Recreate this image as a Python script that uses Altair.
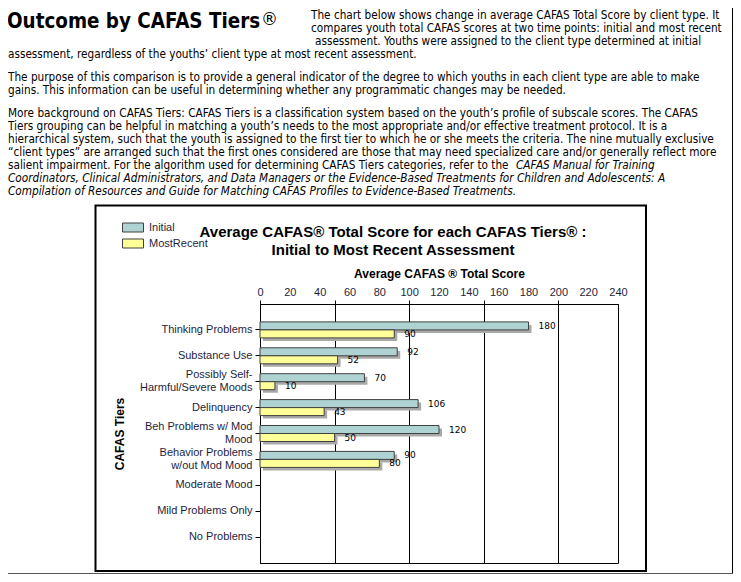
import altair as alt
import pandas as pd

# ---------------- data ----------------
tiers = ["Thinking Problems", "Substance Use", "Possibly Self-Harmful/Severe Moods", "Delinquency",
         "Beh Problems w/ Mod Mood", "Behavior Problems w/out Mod Mood", "Moderate Mood",
         "Mild Problems Only", "No Problems"]
tier_labels = [["Thinking Problems"], ["Substance Use"], ["Possibly Self-", "Harmful/Severe Moods"],
               ["Delinquency"], ["Beh Problems w/ Mod", "Mood"], ["Behavior Problems", "w/out Mod Mood"],
               ["Moderate Mood"], ["Mild Problems Only"], ["No Problems"]]
series = ["Initial", "MostRecent"]
initial = [180, 92, 70, 106, 120, 90, None, None, None]
most_recent = [90, 52, 10, 43, 50, 80, None, None, None]
label_ticks = list(range(0, 241, 20))
grid_ticks = [0, 50, 100, 150, 200]

page_title = "Outcome by CAFAS Tiers"
para1_right = ["The chart below shows change in average CAFAS Total Score by client type. It",
               "compares youth total CAFAS scores at two time points: initial and most recent"]
para1_right3 = "assessment. Youths were assigned to the client type determined at initial"
para1_left = "assessment, regardless of the youths\u2019 client type at most recent assessment."
para2 = ["The purpose of this comparison is to provide a general indicator of the degree to which youths in each client type are able to make",
         "gains. This information can be useful in determining whether any programmatic changes may be needed."]
para3 = ["More background on CAFAS Tiers: CAFAS Tiers is a classification system based on the youth\u2019s profile of subscale scores. The CAFAS",
         "Tiers grouping can be helpful in matching a youth\u2019s needs to the most appropriate and/or effective treatment protocol. It is a",
         "hierarchical system, such that the youth is assigned to the first tier to which he or she meets the criteria. The nine mutually exclusive",
         "\u201cclient types\u201d are arranged such that the first ones considered are those that may need specialized care and/or generally reflect more",
         "salient impairment. For the algorithm used for determining CAFAS Tiers categories, refer to the"]
para3_italic_a = "CAFAS Manual for Training"
para3_italic_b = ["Coordinators, Clinical Administrators, and Data Managers or the Evidence-Based Treatments for Children and Adolescents: A",
                  "Compilation of Resources and Guide for Matching CAFAS Profiles to Evidence-Based Treatments."]
chart_title = ["Average CAFAS\u00ae Total Score for each CAFAS Tiers\u00ae :", "Initial to Most Recent Assessment"]
x_title = "Average CAFAS \u00ae Total Score"
y_title = "CAFAS Tiers"

rows = []
for t, a, b in zip(tiers, initial, most_recent):
    if a is not None:
        rows.append({"Tier": t, "Assessment": series[0], "Score": a})
    if b is not None:
        rows.append({"Tier": t, "Assessment": series[1], "Score": b})
df = pd.DataFrame(rows)

# ---------------- layout ----------------
OX, OY = 260, 304          # page position of plot origin
W, H = 358, 259
SVG_BOTTOM = 574
PAD = {"left": OX - 8, "top": OY - 8, "right": 733 - (OX + W), "bottom": SVG_BOTTOM - OY - H}
NAVY = "#1e1e3c"
PARA_FONT = "DejaVu Sans Condensed"
PARA_SIZE = 11.7
AX_FONT = "Liberation Sans"

label_map = "{" + ",".join(f"'{t}': {l!r}" for t, l in zip(tiers, tier_labels)) + "}"

x_scale = alt.Scale(domain=[0, 240], nice=False, zero=True)
y_scale = alt.Scale(domain=tiers, paddingInner=0, paddingOuter=0.5)
color_scale = alt.Scale(domain=series, range=["#afd3d3", "#ffff99"])

x_axis = alt.Axis(
    orient="top", values=sorted(set(label_ticks + grid_ticks)), title=x_title,
    titleFont=AX_FONT, titleFontSize=12, titleFontWeight="bold", titleColor="black",
    titleX=W / 2, titleY=-27, titleBaseline="alphabetic", titleAlign="center",
    labelFont=AX_FONT, labelFontSize=11, labelColor=NAVY, labelPadding=3, labelOverlap=False,
    labelExpr="datum.value % 20 === 0 ? datum.label : ''", labelFlush=False,
    tickSize=4, tickColor="black", domainColor="black",
    tickOpacity={"condition": {"test": "datum.value % 50 === 0", "value": 1}, "value": 0},
    grid=True, gridColor="black", gridWidth=1,
    gridOpacity={"condition": {"test": "datum.value % 50 === 0", "value": 1}, "value": 0},
)
y_axis = alt.Axis(
    title=y_title, titleFont=AX_FONT, titleFontSize=12, titleFontWeight="bold", titleColor="black",
    titleAngle=-90, titleX=-141, titleY=H / 2, titleAlign="center", titleBaseline="middle",
    labelExpr=f"{label_map}[datum.label]", labelFont=AX_FONT, labelFontSize=11, labelColor=NAVY,
    labelLineHeight=13, labelPadding=3, labelLimit=250,
    labelOffset={"condition": {"test": f"length({label_map}[datum.value]) > 1", "value": -6.5}, "value": 0},
    tickSize=5, tickColor="black", domainColor="black", grid=False,
)
legend = alt.Legend(
    orient="none", legendX=-132.5, legendY=-82, title=None, padding=0,
    symbolType="M-2.1,-0.9H2.1V0.9H-2.1Z", symbolSize=100, symbolStrokeColor="#404040",
    symbolStrokeWidth=1, symbolOpacity=1, labelFont=AX_FONT, labelFontSize=11, labelColor=NAVY,
    labelOffset=10.5, rowPadding=3,
)

base = alt.Chart(df)
X = alt.X("Score:Q", scale=x_scale, axis=x_axis)
Y = alt.Y("Tier:N", scale=y_scale, axis=y_axis, sort=tiers)


def shadow(name, dy):
    return base.transform_filter(alt.datum.Assessment == name).mark_bar(
        size=8, xOffset=3, x2Offset=3, yOffset=dy + 3, color="#a9a9a9"
    ).encode(x=X, y=Y)


def bars(name, dy):
    return base.transform_filter(alt.datum.Assessment == name).mark_bar(
        size=8, yOffset=dy, stroke="#404040", strokeWidth=1, opacity=1
    ).encode(x=X, y=Y, color=alt.Color("Assessment:N", scale=color_scale, legend=legend))


def values(name, dy):
    return base.transform_filter(alt.datum.Assessment == name).mark_text(
        align="left", baseline="middle", dx=10, yOffset=dy, font="DejaVu Sans", fontSize=9, color="black"
    ).encode(x=X, y=Y, text="Score:Q")


one = alt.Data(values=[{}])


def ann(text, x, y, size=PARA_SIZE, weight="normal", style="normal", font=PARA_FONT, align="left",
        line_height=13, color="black", baseline="alphabetic"):
    return alt.Chart(one).mark_text(
        text=text, align=align, baseline=baseline, font=font, fontSize=size, fontWeight=weight,
        fontStyle=style, color=color, lineHeight=line_height
    ).encode(x=alt.value(x - OX), y=alt.value(y - OY))


frame = alt.Chart(one).mark_rect(fill=None, stroke="black", strokeWidth=2).encode(
    x=alt.value(95.5 - OX), x2=alt.value(646 - OX), y=alt.value(205.5 - OY), y2=alt.value(SVG_BOTTOM - 3 - OY))
page_right = alt.Chart(one).mark_rule(color="black", strokeWidth=1).encode(
    x=alt.value(732.5 - OX), y=alt.value(8 - OY), y2=alt.value(SVG_BOTTOM - OY))
page_bottom = alt.Chart(one).mark_rule(color="#555555", strokeWidth=1).encode(
    x=alt.value(8 - OX), x2=alt.value(733 - OX), y=alt.value(SVG_BOTTOM - 0.5 - OY))

layers = [
    frame, page_right, page_bottom,
    ann(page_title, 7, 27.5, size=20.4, weight="bold"),
    ann("\u00ae", 261, 24.5, size=17, font="DejaVu Sans"),
    ann(para1_right, 311, 18.5),
    ann(para1_right3, 315, 44.5),
    ann(para1_left, 8, 57.5),
    ann(para2, 8, 80.5),
    ann(para3, 8, 116.5),
    ann(para3_italic_a, 516, 168.5, style="italic"),
    ann(para3_italic_b, 8, 181.5, style="italic"),
    ann(chart_title, 393, 236.5, size=15, weight="bold", font=AX_FONT, align="center", line_height=18.5),
    shadow(series[0], -4), shadow(series[1], 4),
    bars(series[0], -4), bars(series[1], 4),
    values(series[0], -4), values(series[1], 4),
]

chart = alt.layer(*layers).properties(
    width=W, height=H, padding=PAD, autosize=alt.AutoSizeParams(type="none"),
    background="white",
).configure_view(stroke="black", strokeWidth=1)

chart.save("out.html", embed_options={"renderer": "svg", "actions": False})
